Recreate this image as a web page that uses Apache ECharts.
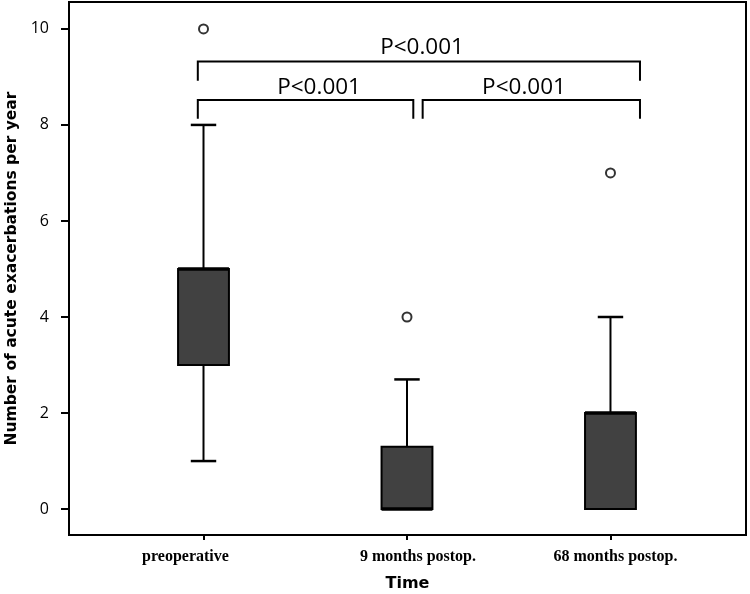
<!DOCTYPE html>
<html>
<head>
<meta charset="utf-8">
<title>Acute exacerbations per year</title>
<script src="https://cdn.jsdelivr.net/npm/echarts@6/dist/echarts.min.js"></script>
<style>
  html, body { margin: 0; padding: 0; background: #fff; }
  #chart { width: 750px; height: 594px; }
</style>
</head>
<body>
<div id="chart"></div>
<script>
// categories on the x axis (placed at x = 1, 2, 3)
const categories = ['preoperative', '9 months postop.', '68 months postop.'];

// box statistics per category: [lower whisker, Q1, median, Q3, upper whisker]
const boxStats = [
  [1, 3, 5, 5, 8],
  [0, 0, 0, 1.3, 2.7],
  [0, 0, 2, 2, 4]
];

// outliers: [category index, value]
const outliers = [
  [0, 10],
  [1, 4],
  [2, 7]
];

const yTicks = [0, 2, 4, 6, 8, 10];

// significance brackets (data units)
const pLabels = ['P<0.001', 'P<0.001', 'P<0.001'];
const bracketSpans = [[0.972, 3.145], [0.972, 2.031], [2.077, 3.145]];
const bracketLevels = [9.32, 8.52, 8.52];
const bracketEnds = [8.92, 8.13, 8.13];
const pLabelAnchors = [[2.074, 9.61], [1.568, 8.78], [2.575, 8.78]];

const chart = echarts.init(document.getElementById('chart'));

const BOX_W = 0.25;   // box width in x units
const CAP_W = 0.125;  // whisker cap width
const labelShift = [-18, 11, 5]; // horizontal nudge of the x labels, px

const boxData = boxStats.map((s, i) => [i + 1].concat(s));
const outlierData = outliers.map(o => [o[0] + 1, o[1]]);
const bracketData = bracketSpans.map((s, i) => [s[0], s[1], bracketLevels[i], bracketEnds[i], pLabelAnchors[i][0], pLabelAnchors[i][1]]);

const rich = {};
labelShift.forEach((d, i) => {
  rich['c' + i] = {
    fontFamily: 'Liberation Serif',
    fontWeight: 'bold',
    fontSize: 16,
    color: '#000',
    padding: d < 0 ? [0, -2 * d, 0, 0] : [0, 0, 0, 2 * d]
  };
});

const option = {
  animation: false,
  backgroundColor: '#fff',
  grid: {
    left: 69, right: 4, top: 2, bottom: 59,
    outerBoundsMode: 'none',
    show: true, borderColor: '#000', borderWidth: 2
  },
  xAxis: {
    type: 'value',
    min: 0.339,
    max: 3.666,
    name: 'Time',
    nameLocation: 'middle',
    nameGap: 41,
    nameTextStyle: { fontFamily: 'DejaVu Sans', fontWeight: 'bold', fontSize: 16, color: '#000' },
    splitLine: { show: false },
    axisLine: { onZero: false, lineStyle: { color: '#000', width: 2 } },
    axisTick: { customValues: [1, 2, 3], length: 5, lineStyle: { color: '#000', width: 2 } },
    axisLabel: {
      customValues: [1, 2, 3],
      margin: 14,
      formatter: v => '{c' + (v - 1) + '|' + categories[v - 1] + '}',
      rich: rich
    }
  },
  yAxis: {
    type: 'value',
    min: -0.54,
    max: 10.56,
    name: 'Number of acute exacerbations per year',
    nameLocation: 'middle',
    nameGap: 49,
    nameTextStyle: { fontFamily: 'DejaVu Sans', fontWeight: 'bold', fontSize: 15.5, color: '#000' },
    splitLine: { show: false },
    axisLine: { show: true, onZero: false, lineStyle: { color: '#000', width: 2 } },
    axisTick: { show: true, customValues: yTicks, length: 8, lineStyle: { color: '#000', width: 2 } },
    axisLabel: {
      customValues: yTicks,
      margin: 20,
      fontFamily: 'Open Sans',
      fontSize: 16,
      color: '#000'
    }
  },
  series: [
    {
      type: 'custom',
      name: 'box',
      data: boxData,
      encode: { x: 0, y: [1, 2, 3, 4, 5] },
      renderItem: function (params, api) {
        const x = api.value(0);
        const pLo = api.coord([x, api.value(1)]);
        const pQ1 = api.coord([x, api.value(2)]);
        const pMed = api.coord([x, api.value(3)]);
        const pQ3 = api.coord([x, api.value(4)]);
        const pHi = api.coord([x, api.value(5)]);
        const hb = api.size([BOX_W, 0])[0] / 2;
        const hc = api.size([CAP_W, 0])[0] / 2;
        const cx = pMed[0];
        const line = { stroke: '#000', lineWidth: 2 };
        const children = [
          { type: 'line', shape: { x1: cx, y1: pQ3[1], x2: cx, y2: pHi[1] }, style: line },
          { type: 'line', shape: { x1: cx - hc, y1: pHi[1], x2: cx + hc, y2: pHi[1] }, style: { stroke: '#000', lineWidth: 2.5 } }
        ];
        if (api.value(1) < api.value(2)) {
          children.push(
            { type: 'line', shape: { x1: cx, y1: pQ1[1], x2: cx, y2: pLo[1] }, style: line },
            { type: 'line', shape: { x1: cx - hc, y1: pLo[1], x2: cx + hc, y2: pLo[1] }, style: { stroke: '#000', lineWidth: 2.5 } }
          );
        }
        children.push(
          { type: 'rect', shape: { x: cx - hb, y: pQ3[1], width: hb * 2, height: pQ1[1] - pQ3[1] },
            style: { fill: '#414141', stroke: '#000', lineWidth: 2 } },
          { type: 'line', shape: { x1: cx - hb, y1: pMed[1], x2: cx + hb, y2: pMed[1] },
            style: { stroke: '#000', lineWidth: 3.5 } }
        );
        return { type: 'group', children: children };
      },
      z: 2
    },
    {
      type: 'scatter',
      name: 'outliers',
      data: outlierData,
      symbol: 'circle',
      symbolSize: 9,
      itemStyle: { color: '#fff', borderColor: '#000', borderWidth: 2 },
      z: 3
    },
    {
      type: 'custom',
      name: 'brackets',
      data: bracketData,
      encode: { x: [0, 1, 4], y: [2, 3, 5] },
      renderItem: function (params, api) {
        const a = api.coord([api.value(0), api.value(3)]);
        const b = api.coord([api.value(0), api.value(2)]);
        const c = api.coord([api.value(1), api.value(2)]);
        const d = api.coord([api.value(1), api.value(3)]);
        const t = api.coord([api.value(4), api.value(5)]);
        return {
          type: 'group',
          children: [
            { type: 'polyline', shape: { points: [a, b, c, d] },
              style: { stroke: '#000', lineWidth: 2, fill: null } },
            { type: 'text', x: t[0], y: t[1],
              style: { text: pLabels[params.dataIndex], fontFamily: 'Open Sans', fontSize: 22.5,
                fill: '#000', align: 'center', verticalAlign: 'middle' } }
          ]
        };
      },
      z: 4
    }
  ]
};

chart.setOption(option);
</script>
</body>
</html>
